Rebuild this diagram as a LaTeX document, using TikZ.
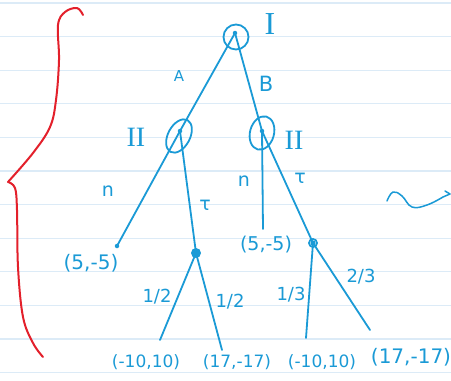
\documentclass[tikz,border=0pt]{standalone}
\usepackage{fontspec}
\setmainfont{DejaVu Sans}
\newfontfamily\romfont{Liberation Serif}
\definecolor{ink}{HTML}{1A9AD6}
\definecolor{redink}{HTML}{E3202B}
\definecolor{paper}{HTML}{DCEBF7}
\tikzset{
  pen/.style={draw=ink,line width=1.8pt,line cap=round,line join=round},
  dotnode/.style={circle,fill=ink,inner sep=0pt,minimum size=4.5pt},
  bigdot/.style={circle,fill=ink,inner sep=0pt,minimum size=10pt},
  lbl/.style={text=ink,font=\fontsize{16}{16}\selectfont,inner sep=0pt},
  elbl/.style={text=ink,font=\fontsize{19}{19}\selectfont,inner sep=0pt},
  roman/.style={text=ink,font=\romfont\fontsize{32}{32}\selectfont,inner sep=0pt},
}
\begin{document}
\begin{tikzpicture}[x=1pt,y={(0pt,-1pt)}]
\useasboundingbox (0,0) rectangle (451,381);
\fill[white] (0,0) rectangle (451,381);
% ruled paper
\foreach \k in {0,...,11} {
  \draw[paper,line width=1.3pt] (0,{3+33.6*\k}) -- (451,{3+33.6*\k});
}
% red brace
\draw[redink,line width=2pt,line cap=round] plot[smooth,tension=0.6] coordinates
  {(83,15) (77,8) (65,12) (58,25) (59,60) (56,100) (50,127) (33,153) (8,182)};
\draw[redink,line width=2pt,line cap=round] plot[smooth,tension=0.6] coordinates
  {(8,182) (15,188) (17,210) (18,267) (23,317) (33,343) (43,357)};
% tree nodes
\node[dotnode] (r) at (235,33) {};
\node[dotnode] (l) at (180,131) {};
\node[dotnode] (rr) at (262,131) {};
\node[dotnode] (l1) at (117,246) {};
\node[bigdot] (c1) at (196,253) {};
\coordinate (r1) at (263,229);
\node[dotnode,minimum size=5pt] (c2) at (313,243) {};
\coordinate (a1) at (160,340);
\coordinate (a2) at (222,350);
\coordinate (b1) at (306,338);
\coordinate (b2) at (370,330);
% information set marks
\draw[pen] (236,37) circle (12.5);
\draw[pen,rotate around={-28:(179,136)}] (179,136) ellipse (11 and 18);
\draw[pen,rotate around={-15:(262,133)}] (262,133) ellipse (12 and 17);
\draw[pen] (313,243) circle (4);
% edges
\draw[pen] (r.center) -- (l.center);
\draw[pen] (r.center) -- (rr.center);
\draw[pen] (l.center) -- (l1.center);
\draw[pen] (l.center) -- (c1.center);
\draw[pen] (rr.center) -- (r1);
\draw[pen] (rr.center) -- (c2.center);
\draw[pen] (c1.center) -- (a1);
\draw[pen] (c1.center) -- (a2);
\draw[pen] (c2.center) -- (b1);
\draw[pen] (c2.center) -- (b2);
% player labels
\node[roman] (pI) at (270,24) {I};
\node[roman,font=\romfont\fontsize{28}{28}\selectfont] (pIIa) at (136,137) {II};
\node[roman,font=\romfont\fontsize{28}{28}\selectfont] (pIIb) at (294,140) {II};
% action labels
\node[elbl,font=\fontsize{15}{15}\selectfont] (eA) at (179,76) {A};
\node[elbl,font=\fontsize{21}{21}\selectfont] (eB) at (266,84) {B};
\node[elbl] (en1) at (108,191) {n};
\node[elbl] (et1) at (205,205) {τ};
\node[elbl] (en2) at (244,181) {n};
\node[elbl] (et2) at (300,178) {τ};
\node[elbl,font=\fontsize{18}{18}\selectfont] (p1) at (157,297) {1/2};
\node[elbl,font=\fontsize{18}{18}\selectfont] (p2) at (230,302) {1/2};
\node[elbl,font=\fontsize{18}{18}\selectfont] (p3) at (291,295) {1/3};
\node[elbl,font=\fontsize{18}{18}\selectfont] (p4) at (361,277) {2/3};
% payoffs
\node[lbl,font=\fontsize{20}{20}\selectfont] (o1) at (91,263) {(5,-5)};
\node[lbl,font=\fontsize{19}{19}\selectfont] (o2) at (266,245) {(5,-5)};
\node[lbl,font=\fontsize{17}{17}\selectfont] (o3) at (146,362) {(-10,10)};
\node[lbl,font=\fontsize{17}{17}\selectfont] (o4) at (237,362) {(17,-17)};
\node[lbl,font=\fontsize{17}{17}\selectfont] (o5) at (322,362) {(-10,10)};
\node[lbl,font=\fontsize{20}{20}\selectfont] (o6) at (411,357) {(17,-17)};
% squiggle at right
\draw[pen,line width=1.5pt] plot[smooth,tension=0.7] coordinates
  {(387,201) (393,192) (402,196) (412,207) (427,205) (443,197)};
\draw[pen,line width=1.5pt] (443,197) -- (450,194);
\draw[pen,line width=1.5pt] (445,191) -- (450,194);
\end{tikzpicture}
\end{document}
